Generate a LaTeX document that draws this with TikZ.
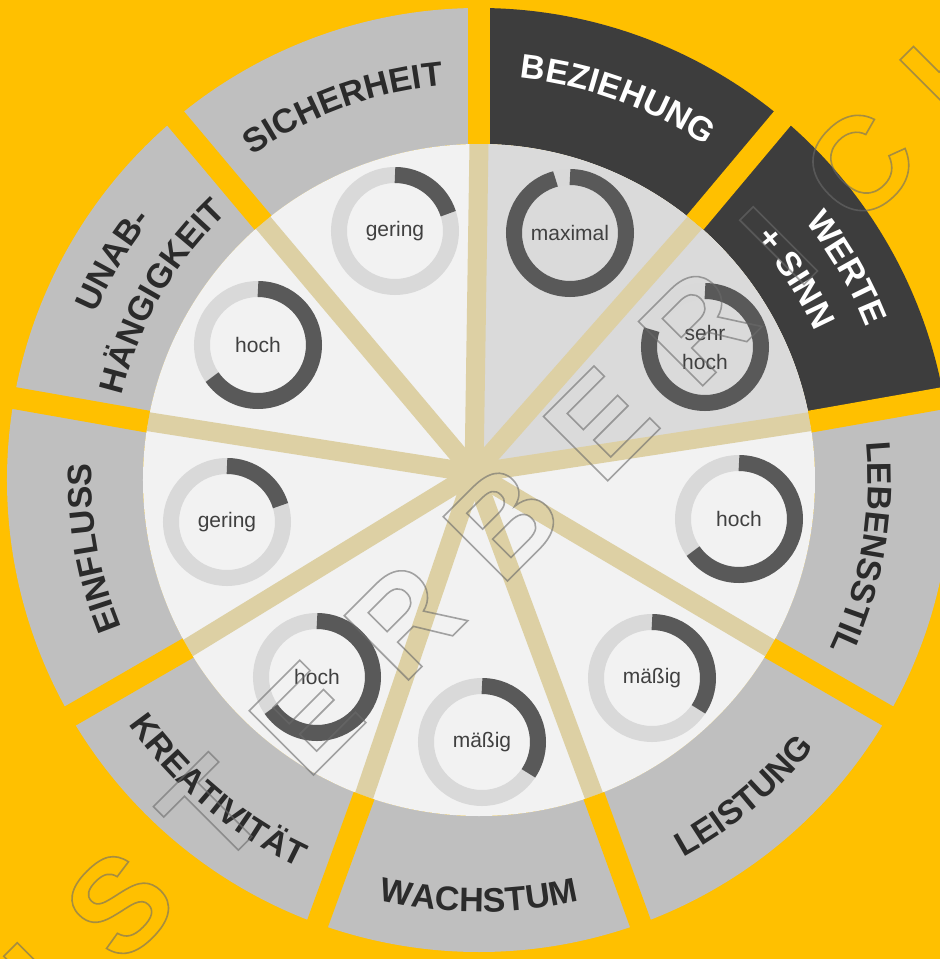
\documentclass[tikz,border=0pt]{standalone}
\usepackage{fontspec}
\setmainfont{Liberation Sans}
\usetikzlibrary{decorations.text}

\definecolor{bgorange}{HTML}{FFC000}
\definecolor{ringgray}{HTML}{BFBFBF}
\definecolor{ringdark}{HTML}{3D3D3D}
\definecolor{disklight}{HTML}{F2F2F2}
\definecolor{diskgray}{HTML}{DADADA}
\definecolor{spokecol}{HTML}{DDD0A4}
\definecolor{trackcol}{HTML}{D9D9D9}
\definecolor{metercol}{HTML}{595959}
\definecolor{labeldark}{HTML}{2B2B2B}
\definecolor{valuecol}{HTML}{404040}
\definecolor{markcol}{HTML}{737373}

\newcommand\ringfont{\fontsize{34}{38}\selectfont\bfseries}
\newcommand\markfont{\fontsize{132}{136}\selectfont\bfseries}

% switch the glyphs that follow to outlined (stroked, unfilled) rendering
\makeatletter
\newcommand\hollowglyphs{\pgfsys@invoke{1 Tr 1.6 w 0.42 G}}
\makeatother

% label set along an arc: #1 colour, #2 baseline radius, #3 start angle, #4 end angle, #5 text
\newcommand\arclabel[5]{%
  \path[decorate, decoration={text along path, text align=center,
      text color=#1, text={|\ringfont|#5}}]
    (#3:#2pt) arc[start angle=#3, end angle=#4, radius=#2pt];}

% ring gauge: #1 name, #2 centre, #3 end angle of the filled part, #4 value
\newcommand\valuering[4]{%
  \coordinate (#1) at (#2);
  \draw[trackring] (#1) circle[radius=56pt];
  \draw[meterring] (#1) ++(90:56pt) arc[start angle=90, end angle=#3, radius=56pt];
  \node[valuetext] (#1-t) at (#1) {#4};}

\begin{document}
\begin{tikzpicture}[x=1pt,y=1pt,
  seglight/.style={fill=ringgray},
  segdark/.style={fill=ringdark},
  gapline/.style={draw=bgorange, line width=22pt},
  spokeline/.style={draw=spokecol, line width=19pt},
  trackring/.style={draw=trackcol, line width=16pt},
  meterring/.style={draw=metercol, line width=16pt},
  valuetext/.style={text=valuecol, font=\fontsize{21}{29}\selectfont, align=center, inner sep=0pt},
  markletter/.style={text=markcol, font=\markfont, inner sep=0pt, anchor=base},
]
\useasboundingbox[fill=bgorange] (-479,-479) rectangle (461,480);
\begin{scope}
\clip (-479,-479) rectangle (461,480);

% outer ring segments
\foreach \a/\b/\s in {90/130/seglight, 50/90/segdark, 10/50/segdark, -30/10/seglight,
    -70/-30/seglight, -110/-70/seglight, -150/-110/seglight, 170/210/seglight, 130/170/seglight}{
  \path[\s] (\a:336pt) arc[start angle=\a, end angle=\b, radius=336pt]
    -- (\b:472pt) arc[start angle=\b, end angle=\a, radius=472pt] -- cycle;
}

% inner disc with its two shaded sectors
\fill[disklight] (0,0) circle[radius=336pt];
\fill[diskgray] (0,0) -- (10:336pt) arc[start angle=10, end angle=90, radius=336pt] -- cycle;

% spokes
\coordinate (hub) at (-5,7);
\foreach \a in {90,50,10,-30,-70,-110,-150,170,130}
  \draw[spokeline] (hub) -- (\a:336pt);

% gaps between the ring segments
\foreach \a in {90,50,10,-30,-70,-110,-150,170,130}
  \draw[gapline] (\a:336pt) -- (\a:520pt);

% segment labels
\arclabel{labeldark}{396}{128}{92}{SICHERHEIT}
\arclabel{white}{404}{88}{52}{BEZIEHUNG}
\arclabel{white}{416}{48}{12}{WERTE}
\arclabel{white}{367}{50.5}{14.5}{+ SINN}
\arclabel{labeldark}{389}{9}{-29}{LEBENSSTIL}
\arclabel{labeldark}{429}{-69}{-31}{LEISTUNG}
\arclabel{labeldark}{432}{-109}{-71}{WACHSTUM}
\arclabel{labeldark}{427}{-149}{-111}{KREATIVITÄT}
\arclabel{labeldark}{387}{209}{171}{EINFLUSS}
\arclabel{labeldark}{418}{167}{131}{UNAB-}
\arclabel{labeldark}{367}{169}{131}{HÄNGIGKEIT}

% gauges
\valuering{sich}{-84,249}{18}{gering}
\valuering{bez}{91,247}{-255}{maximal}
\valuering{wert}{226,133}{-198}{sehr\\hoch}
\valuering{leb}{260,-39}{-145}{hoch}
\valuering{leis}{173,-198}{-34}{mäßig}
\valuering{wach}{3,-262}{-34}{mäßig}
\valuering{krea}{-162,-197}{-145}{hoch}
\valuering{einf}{-252,-42}{17}{gering}
\valuering{unab}{-221,135}{-145}{hoch}

% outlined diagonal watermark
\begin{scope}[shift={(-352,-415)}, rotate=45, transform shape, opacity=0.6]
  \foreach \t/\c [count=\i] in {-300/M, -151/U, -12/S, 120/T, 252/E, 390/R, 530/B,
      668/E, 806/R, 920/I, 1034/C, 1176/H, 1310/T}
    \node[markletter] (mark\i) at (\t,-47) {\hollowglyphs\c};
\end{scope}
\end{scope}
\end{tikzpicture}
\end{document}
